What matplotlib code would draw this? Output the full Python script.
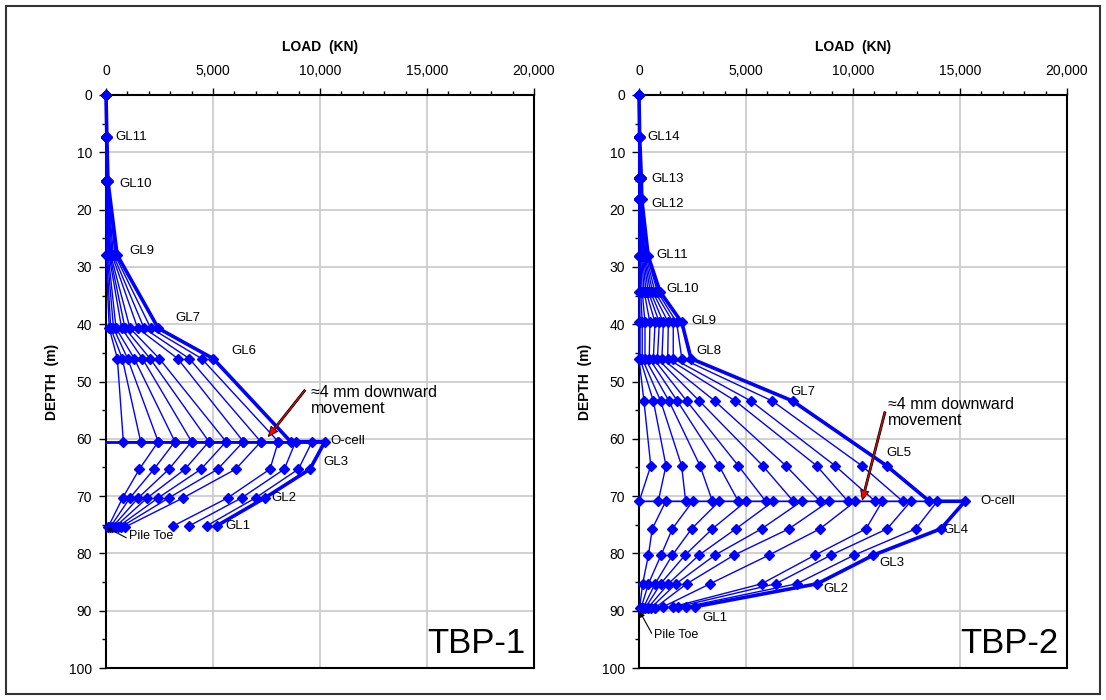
import numpy as np
import matplotlib
matplotlib.use('Agg')
import matplotlib.pyplot as plt
from matplotlib.ticker import MultipleLocator, FuncFormatter
from matplotlib.patches import Rectangle

plt.rcParams['font.family'] = ['Liberation Sans', 'DejaVu Sans']

nan = np.nan

# ---------------- TBP-1 ----------------
# upper part: top, GL11, GL10, GL9, GL7, GL6, O-cell  (depth m)
tbp1_upper_depth = [0, 7.3, 15.0, 27.9, 40.7, 46.0, 60.5]
tbp1_upper_loads = [
    [0, 0, 0, 0, 0, 0, 0, 0, 0, 0, 0],
    [0, 0, 0, 0, 0, 10, 10, 20, 20, 30, 40],
    [0, 5, 10, 15, 20, 30, 40, 50, 60, 75, 90],
    [0, 30, 60, 100, 140, 180, 220, 280, 340, 420, 520],
    [150, 220, 350, 470, 730, 890, 1120, 1480, 1780, 2090, 2440],
    [530, 760, 1010, 1320, 1700, 2060, 2490, 3350, 3890, 4470, 5010],
    [810, 1620, 2440, 3220, 4000, 4810, 5610, 6420, 7230, 8050, 8630],
]
# lower part: O-cell, GL3, GL2, GL1, pile toe
tbp1_lower_depth = [60.5, 65.3, 70.3, 75.2, 75.4]
tbp1_lower_loads = [
    [2440, 3220, 4000, 4810, 5610, 6420, 7240, 8050, 8860, 9630, 10230],
    [1560, 2240, 2940, 3690, 4440, 5220, 6060, 7660, 8330, 8990, 9530],
    [780, 1120, 1510, 1930, 2440, 2940, 3610, 5690, 6340, 6990, 7430],
    [nan, nan, nan, nan, nan, nan, nan, 3150, 3890, 4700, 5170],
    [100, 200, 300, 420, 550, 700, 890, nan, nan, nan, nan],
]
tbp1_labels = [('GL11', 420, 7.3), ('GL10', 607, 15.5), ('GL9', 1075, 27.2),
               ('GL7', 3257, 39.0), ('GL6', 5841, 44.6), ('O-cell', 10500, 60.4),
               ('GL3', 10140, 64.0), ('GL2', 7710, 70.3), ('GL1', 5561, 75.3)]

# ---------------- TBP-2 ----------------
# upper: top, GL14, GL13, GL12, GL11, GL10, GL9, GL8, GL7, GL5, O-cell
tbp2_upper_depth = [0, 7.3, 14.5, 18.2, 28.1, 34.3, 39.7, 46.0, 53.4, 64.7, 70.9]
tbp2_upper_loads = [
    [0, 0, 0, 0, 0, 0, 0, 0, 0, 0, 0, 0],
    [0, 0, 0, 0, 5, 5, 10, 10, 15, 20, 25, 30],
    [0, 5, 10, 15, 20, 30, 40, 50, 60, 75, 90, 110],
    [0, 5, 10, 20, 30, 40, 50, 60, 75, 90, 110, 130],
    [0, 20, 50, 80, 120, 160, 200, 240, 280, 330, 380, 430],
    [0, 30, 80, 150, 240, 330, 430, 530, 630, 740, 860, 980],
    [0, 50, 150, 280, 510, 750, 950, 1140, 1370, 1600, 1760, 2000],
    [0, 50, 150, 280, 480, 670, 860, 1070, 1340, 1600, 2000, 2430],
    [230, 670, 1010, 1400, 1790, 2230, 2820, 3540, 4500, 5230, 6230, 7180],
    [550, 1260, 1990, 2850, 3740, 4640, 5780, 6860, 8300, 9160, 10410, 11570],
    [10, 900, 2180, 3430, 4640, 5920, 7210, 8460, 9760, 11030, 12320, 13570],
]
# lower: O-cell, GL4, GL3, GL2, GL1, pile toe
tbp2_lower_depth = [70.9, 75.7, 80.3, 85.3, 89.3, 89.5]
tbp2_lower_loads = [
    [1250, 2510, 3750, 5000, 6280, 7600, 8880, 10110, 11370, 12700, 13940, 15230],
    [620, 1560, 2460, 3430, 4530, 5730, 7010, 8460, 10610, 11600, 12940, 14110],
    [440, 1030, 1560, 2150, 2800, 3550, 4440, 6070, 8220, 8970, 10050, 10950],
    [170, 440, 750, 1010, 1370, 1730, 2230, 3320, 5730, 6390, 7370, 8330],
    [nan, nan, nan, nan, nan, nan, nan, 1140, 1600, 1840, 2200, 2620],
    [30, 100, 200, 300, 420, 560, 750, nan, nan, nan, nan, nan],
]
tbp2_labels = [('GL14', 388, 7.4), ('GL13', 593, 14.7), ('GL12', 593, 19.1),
               ('GL11', 827, 27.9), ('GL10', 1294, 33.9), ('GL9', 2463, 39.4),
               ('GL8', 2664, 44.7), ('GL7', 7056, 51.9), ('GL5', 11542, 62.4),
               ('O-cell', 15935, 70.9), ('GL4', 14220, 76.0), ('GL3', 11215, 81.6),
               ('GL2', 8612, 86.2), ('GL1', 2944, 91.2)]

BLUE = '#0000FF'


def draw_panel(ax, up_depth, up_loads, low_depth, low_loads, ocell_lw, labels,
               note_xy, arrow_tail, arrow_head, toe_text, toe_head, name):
    n = len(up_loads[0])
    depths = np.array(up_depth + low_depth, dtype=float)
    for i in range(n):
        loads = np.array([r[i] for r in up_loads] + [r[i] for r in low_loads], dtype=float)
        ok = np.isfinite(loads)
        lw = 2.6 if i == n - 1 else 1.0
        ax.plot(loads[ok], depths[ok], color=BLUE, lw=lw, marker='D', ms=4.7,
                mec=BLUE, mfc=BLUE, clip_on=False, zorder=3)
    # O-cell level line
    ax.plot([0, max(low_loads[0])], [low_depth[0], low_depth[0]], color=BLUE,
            lw=ocell_lw, zorder=3, clip_on=False)

    for txt, x, y in labels:
        ax.text(x, y, txt, ha='left', va='center', fontsize=9.5, zorder=5)

    ax.text(note_xy[0], note_xy[1], '\u22484 mm downward\nmovement', ha='left',
            va='center', fontsize=11.5, linespacing=1.15, zorder=5)
    ax.annotate('', xy=arrow_head, xytext=arrow_tail, zorder=6,
                arrowprops=dict(facecolor='red', edgecolor='black', width=1.4,
                                headwidth=6, headlength=7, lw=0.6, shrink=0))
    ax.annotate('Pile Toe', xy=toe_head, xytext=toe_text, ha='left', va='center',
                fontsize=9, zorder=6,
                arrowprops=dict(arrowstyle='-|>', color='black', lw=0.8,
                                mutation_scale=7, shrinkA=0, shrinkB=0,
                                relpos=(0, 0.2)))

    ax.set_xlim(0, 20000)
    ax.set_ylim(100, 0)
    ax.xaxis.tick_top()
    ax.xaxis.set_major_locator(MultipleLocator(5000))
    ax.xaxis.set_minor_locator(MultipleLocator(1000))
    ax.xaxis.set_major_formatter(FuncFormatter(lambda v, p: f'{v:,.0f}'))
    ax.yaxis.set_major_locator(MultipleLocator(10))
    ax.yaxis.set_minor_locator(MultipleLocator(5))
    ax.grid(which='major', color='#c8c8c8', lw=1.2)
    ax.set_axisbelow(True)
    ax.tick_params(axis='x', which='major', length=5, width=1, pad=7, labelsize=10)
    ax.tick_params(axis='x', which='minor', length=3, width=1)
    ax.tick_params(axis='y', which='major', length=5, width=1, pad=5, labelsize=10)
    ax.tick_params(axis='y', which='minor', length=3, width=1)
    for s in ax.spines.values():
        s.set_linewidth(1.5)
        s.set_color('black')

    ax.text(0.5, 1.084, 'LOAD  (KN)', transform=ax.transAxes, ha='center',
            va='center', fontsize=10, fontweight='bold')
    ax.text(-0.126, 0.5, 'DEPTH  (m)', transform=ax.transAxes, ha='center',
            va='center', rotation=90, fontsize=10, fontweight='bold')
    ax.text(0.98, 0.027, name, transform=ax.transAxes, ha='right',
            va='baseline', fontsize=25)


fig = plt.figure(figsize=(11.06, 7.0), dpi=100)
ax1 = fig.add_axes([106 / 1106, 32 / 700, 428 / 1106, 573 / 700])
ax2 = fig.add_axes([639 / 1106, 32 / 700, 428 / 1106, 573 / 700])

draw_panel(ax1, tbp1_upper_depth, tbp1_upper_loads, tbp1_lower_depth,
           tbp1_lower_loads, 2.0, tbp1_labels, (9565, 53.3), (9300, 51.5),
           (7584, 59.6), (1075, 76.9), (0, 75.4), 'TBP-1')
draw_panel(ax2, tbp2_upper_depth, tbp2_upper_loads, tbp2_lower_depth,
           tbp2_lower_loads, 1.0, tbp2_labels, (11650, 55.4), (11495, 55.3),
           (10435, 70.7), (724, 94.2), (40, 90.2), 'TBP-2')

fig.patches.append(Rectangle((6 / 1106, 6 / 700), 1094 / 1106, 688 / 700,
                             transform=fig.transFigure, fill=False,
                             ec='#333333', lw=1.5))

fig.savefig('out.png', dpi=100)
